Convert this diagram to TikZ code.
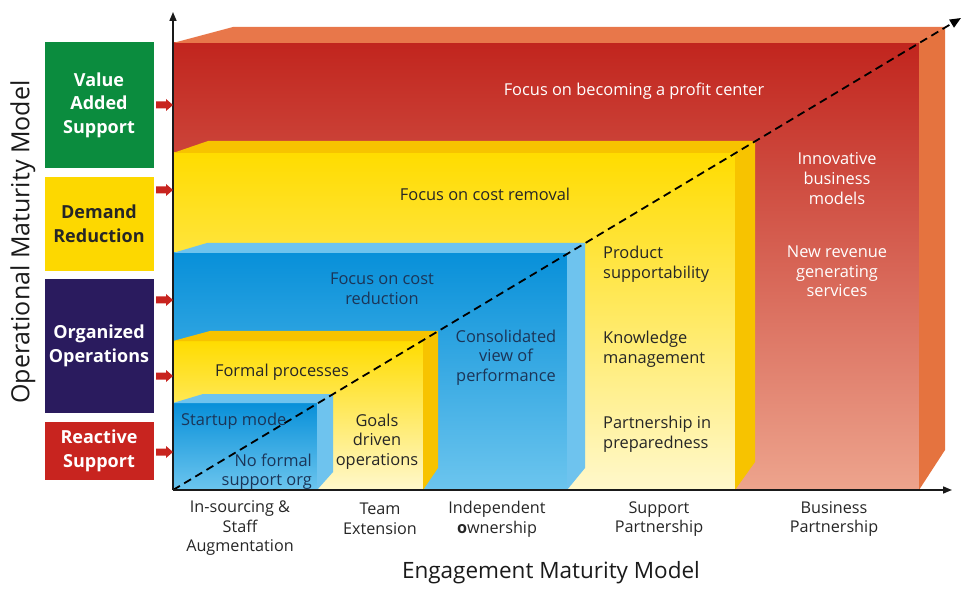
\documentclass[tikz,border=0pt]{standalone}
\usepackage{fontspec}
\setmainfont{Open Sans}
\usetikzlibrary{arrows.meta}
\definecolor{redA}{HTML}{C1251E}
\definecolor{redB}{HTML}{D55C46}
\definecolor{redC}{HTML}{EDA48D}
\definecolor{redtopc}{HTML}{E8774A}
\definecolor{redsidec}{HTML}{E5733F}
\definecolor{yelA}{HTML}{FFDC00}
\definecolor{yelB}{HTML}{FFEB70}
\definecolor{yelC}{HTML}{FFF8CC}
\definecolor{yeltopc}{HTML}{F7C300}
\definecolor{bluA}{HTML}{0890D9}
\definecolor{bluB}{HTML}{229FDF}
\definecolor{bluC}{HTML}{6CC5EE}
\definecolor{blutopc}{HTML}{6EC3EE}
\definecolor{boxgreen}{HTML}{0B8C3E}
\definecolor{boxyellow}{HTML}{FDD800}
\definecolor{boxpurple}{HTML}{2A1B5E}
\definecolor{boxred}{HTML}{C8241F}
\definecolor{navytext}{HTML}{1B3558}
\definecolor{darktext}{HTML}{262626}
\definecolor{axiscol}{HTML}{1A1A1A}
\tikzset{
  redfront/.style={top color=redA, middle color=redB, bottom color=redC},
  yelfront/.style={top color=yelA, middle color=yelB, bottom color=yelC},
  blufront/.style={top color=bluA, middle color=bluB, bottom color=bluC},
  redtop/.style={fill=redtopc},
  redside/.style={fill=redsidec},
  yeltop/.style={fill=yeltopc},
  blutop/.style={fill=blutopc},
  axisline/.style={draw=axiscol, line width=1.6pt, -{Triangle[length=9pt,width=7pt]}},
  diagline/.style={draw=black, line width=1.8pt, dash pattern=on 8pt off 5pt, -{Triangle[length=11pt,width=9pt]}},
  levelbox/.style={minimum width=109pt, inner sep=0pt, align=center, font=\bfseries\fontsize{18}{23.5}\selectfont, text=white},
  blocktxt/.style={font=\fontsize{16.4}{19.6}\selectfont, align=center, inner sep=0pt},
  cattxt/.style={font=\fontsize{16.2}{19.6}\selectfont, align=center, inner sep=0pt, text=darktext},
  axistxt/.style={font=\fontsize{22.5}{26}\selectfont, inner sep=0pt, text=axiscol}
}
\newcommand{\redarrowat}[1]{\fill[boxred, shift={(#1)}] (-8,-3.5) -- (2,-3.5) -- (2,-6) -- (9,0) -- (2,6) -- (2,3.5) -- (-8,3.5) -- cycle;}
\begin{document}
\begin{tikzpicture}[x=1pt,y=-1pt]
\useasboundingbox (0,0) rectangle (978,596);
% ---- red outer block
\shade[redfront] (173,43) rectangle (919,490);
\path[redtop] (173,43) -- (233,27) -- (945,27) -- (919,43) -- cycle;
\path[redside] (919,43) -- (945,27) -- (945,450) -- (919,490) -- cycle;
% ---- yellow block (cost removal)
\shade[yelfront] (173,153) rectangle (735,490);
\path[yeltop] (173,153) -- (208,141) -- (755,141) -- (735,153) -- cycle;
\path[yeltop] (735,153) -- (755,141) -- (755,462) -- (735,490) -- cycle;
% ---- blue block (cost reduction)
\shade[blufront] (173,253) rectangle (567,490);
\path[blutop] (173,253) -- (207,243) -- (585,243) -- (567,253) -- cycle;
\path[blutop] (567,253) -- (585,243) -- (585,468) -- (567,490) -- cycle;
% ---- yellow block (formal processes)
\shade[top color=yelA, middle color=yelB, bottom color=yelC] (173,341) rectangle (423,490);
\path[yeltop] (173,341) -- (210,331) -- (438,331) -- (423,341) -- cycle;
\path[yeltop] (423,341) -- (438,331) -- (438,468) -- (423,490) -- cycle;
% ---- blue block (startup)
\shade[top color=bluA, bottom color=bluC] (173,403) rectangle (317,490);
\path[blutop] (173,403) -- (203,394) -- (333,394) -- (317,403) -- cycle;
\path[blutop] (317,403) -- (333,394) -- (333,472) -- (317,490) -- cycle;

% ---- axes and diagonal
\coordinate (o) at (173,490);
\coordinate (ytip) at (173,12);
\coordinate (xtip) at (952,490);
\coordinate (dtip) at (961,18);
\draw[diagline] (o) -- (dtip);
\draw[axisline] (o) -- (ytip);
\draw[axisline] (o) -- (xtip);

% ---- block texts
\node[blocktxt, text=white] (t1) at (634,91.5) {Focus on becoming a profit center};
\node[blocktxt, text=darktext] (t2) at (485,194.5) {Focus on cost removal};
\node[blocktxt, text=navytext] (t3) at (382,288.5) {Focus on cost\\reduction};
\node[blocktxt, text=darktext] (t4) at (282,372.5) {Formal processes};
\node[blocktxt, text=navytext, anchor=west] (t5) at (181,421.5) {Startup mode};
\node[blocktxt, text=navytext, anchor=east, align=right] (t6) at (312,471.5) {No formal\\support org};
\node[blocktxt, text=darktext] (t7) at (377,441.5) {Goals\\driven\\operations};
\node[blocktxt, text=navytext] (t8) at (506,357.5) {Consolidated\\view of\\performance};
\node[blocktxt, text=darktext, anchor=west, align=left] (t9) at (603,264.5) {Product\\supportability};
\node[blocktxt, text=darktext, anchor=west, align=left] (t10) at (603,349.5) {Knowledge\\management};
\node[blocktxt, text=darktext, anchor=west, align=left] (t11) at (603,434.5) {Partnership in\\preparedness};
\node[blocktxt, text=white] (t12) at (837,178.5) {Innovative\\business\\models};
\node[blocktxt, text=white] (t13) at (837,271.5) {New revenue\\generating\\services};

% ---- level boxes
\node[levelbox, fill=boxgreen, minimum height=126pt] (b1) at (99,105) {Value\\Added\\Support};
\node[levelbox, fill=boxyellow, minimum height=94pt, text=darktext] (b2) at (99,224) {Demand\\Reduction};
\node[levelbox, fill=boxpurple, minimum height=134pt] (b3) at (99,346) {Organized\\Operations};
\node[levelbox, fill=boxred, minimum height=58pt] (b4) at (99,451) {Reactive\\Support};

% ---- red arrows
\coordinate (a1) at (164,105);
\coordinate (a2) at (164,190);
\coordinate (a3) at (164,300);
\coordinate (a4) at (164,376);
\coordinate (a5) at (164,452);
\redarrowat{a1}
\redarrowat{a2}
\redarrowat{a3}
\redarrowat{a4}
\redarrowat{a5}

% ---- category labels
\node[cattxt] (c1) at (240,528) {In-sourcing \&\\Staff\\Augmentation};
\node[cattxt] (c2) at (380,519) {Team\\Extension};
\node[cattxt] (c3) at (497,519) {Independent\\\textbf{o}wnership};
\node[cattxt] (c4) at (659,519) {Support\\Partnership};
\node[cattxt] (c5) at (834,519) {Business\\Partnership};

% ---- axis titles
\node[axistxt] (xl) at (551,573) {Engagement Maturity Model};
\node[axistxt, rotate=90, font=\fontsize{25}{28}\selectfont] (yl) at (23,242) {Operational Maturity Model};
\end{tikzpicture}
\end{document}
